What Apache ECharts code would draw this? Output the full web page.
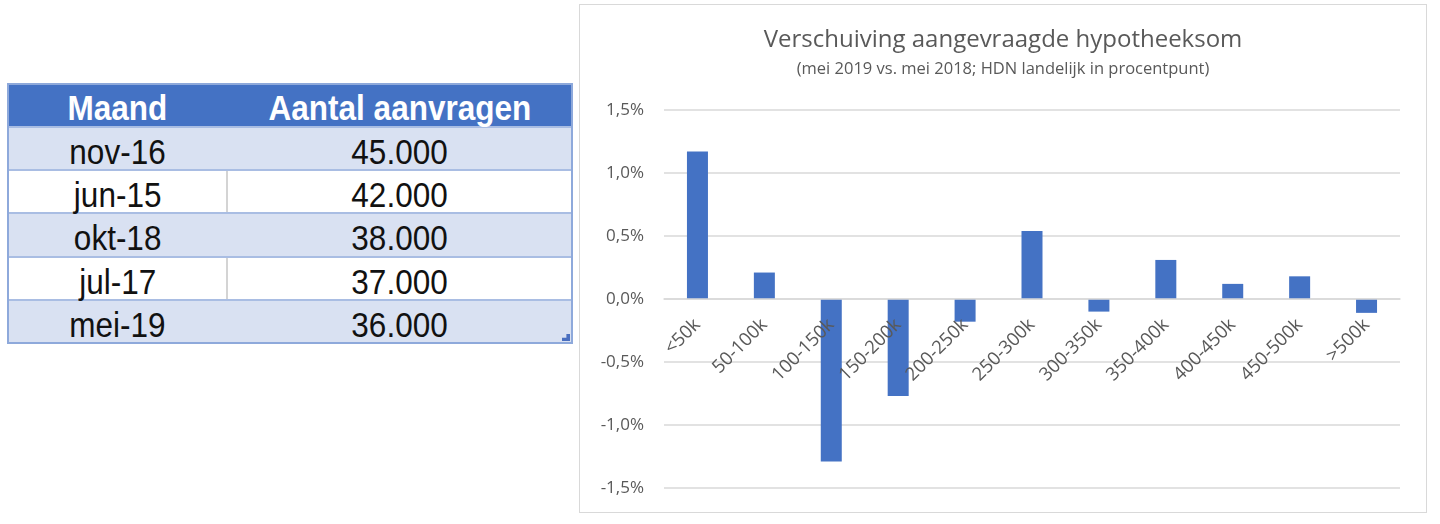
<!DOCTYPE html>
<html>
<head>
<meta charset="utf-8">
<script src="https://cdn.jsdelivr.net/npm/echarts@6/dist/echarts.min.js"></script>
<style>
  html, body { margin: 0; padding: 0; background: #ffffff; width: 1440px; height: 524px; overflow: hidden; }
  .abs { position: absolute; box-sizing: border-box; }
  .cell { position: absolute; text-align: center; font-family: "Liberation Sans", Arial, sans-serif; white-space: nowrap; }
  .cell span { display: inline-block; transform: scaleX(0.9); }
  #chartBox { position: absolute; left: 579px; top: 4px; width: 848px; height: 509px; box-sizing: border-box; border: 1px solid #d9d9d9; }
  #chart { width: 100%; height: 100%; }
</style>
</head>
<body>
<div id="tableLayer"></div>
<div id="chartBox"><div id="chart"></div></div>
<script>
// ---------- table data ----------
const tableHeader = ['Maand', 'Aantal aanvragen'];
const months = ['nov-16', 'jun-15', 'okt-18', 'jul-17', 'mei-19'];
const requestCounts = ['45.000', '42.000', '38.000', '37.000', '36.000'];

// ---------- chart data ----------
const chartTitle = 'Verschuiving aangevraagde hypotheeksom';
const chartSubtitle = '(mei 2019 vs. mei 2018; HDN landelijk in procentpunt)';
const categories = ['<50k', '50-100k', '100-150k', '150-200k', '200-250k', '250-300k', '300-350k', '350-400k', '400-450k', '450-500k', '>500k'];
const shiftValues = [1.17, 0.21, -1.29, -0.77, -0.18, 0.54, -0.10, 0.31, 0.12, 0.18, -0.11];
const yMin = -1.5, yMax = 1.5, yStep = 0.5;

// ---------- build table ----------
(function buildTable() {
  const layer = document.getElementById('tableLayer');
  const L = 8, R = 572, T = 84, headerH = 43, rowH = 43.2, split = 227;
  function add(css, html, cls) {
    const d = document.createElement('div');
    d.className = cls || 'abs';
    Object.assign(d.style, css);
    if (html !== undefined) d.innerHTML = html;
    layer.appendChild(d);
    return d;
  }
  add({ left: L + 'px', top: T + 'px', width: (R - L) + 'px', height: headerH + 'px', background: '#4472C4' });
  const rowsTop = T + headerH;
  months.forEach((m, i) => {
    const y = rowsTop + i * rowH;
    const band = i % 2 === 0;
    add({ left: L + 'px', top: y + 'px', width: (R - L) + 'px', height: rowH + 'px', background: band ? '#D9E1F2' : '#ffffff' });
    if (!band) add({ left: (split - 1) + 'px', top: y + 'px', width: '2px', height: rowH + 'px', background: '#d4d4d4' });
    add({ left: L + 'px', top: (y - 1) + 'px', width: (R - L) + 'px', height: '2px', background: '#A9BDE3' });
  });
  add({ left: (L - 1) + 'px', top: (T - 1) + 'px', width: (R - L + 2) + 'px', height: (headerH + rowH * months.length + 2) + 'px', border: '2px solid #8EA9DB' });
  add({ left: (R - 10) + 'px', top: (rowsTop + rowH * months.length - 9) + 'px', width: '8px', height: '7px', background: '#4A6FC0', clipPath: 'polygon(100% 0,100% 100%,0 100%,0 55%,55% 55%,55% 0)' });
  const fs = 35;
  const cols = [[L, split], [split, R]];
  tableHeader.forEach((h, c) => {
    add({ left: cols[c][0] + 'px', top: (T + 2) + 'px', width: (cols[c][1] - cols[c][0]) + 'px', height: headerH + 'px', lineHeight: headerH + 'px', fontSize: fs + 'px', fontWeight: 'bold', color: '#ffffff' }, '<span>' + h + '</span>', 'cell');
  });
  months.forEach((m, i) => {
    const y = rowsTop + i * rowH + 3;
    [m, requestCounts[i]].forEach((t, c) => {
      add({ left: cols[c][0] + 'px', top: y + 'px', width: (cols[c][1] - cols[c][0]) + 'px', height: rowH + 'px', lineHeight: rowH + 'px', fontSize: fs + 'px', color: '#111111' }, '<span>' + t + '</span>', 'cell');
    });
  });
})();

// ---------- chart ----------
const chart = echarts.init(document.getElementById('chart'), null, { renderer: 'canvas' });
const fontFam = '"Open Sans", "Noto Sans", sans-serif';
chart.setOption({
  animation: false,
  backgroundColor: '#ffffff',
  title: {
    text: chartTitle,
    subtext: chartSubtitle,
    left: 'center',
    top: 18,
    itemGap: 9,
    textStyle: { fontFamily: fontFam, fontSize: 24, fontWeight: 'normal', color: '#595959' },
    subtextStyle: { fontFamily: fontFam, fontSize: 16.5, color: '#595959' }
  },
  grid: { left: 84, right: 26, top: 105, bottom: 24, containLabel: false, outerBoundsMode: 'none' },
  xAxis: {
    type: 'category',
    data: categories,
    z: 10,
    position: 'bottom',
    axisLine: { onZero: true, lineStyle: { color: '#d9d9d9', width: 1.5 } },
    axisTick: { show: false },
    splitLine: { show: false },
    axisLabel: { rotate: 45, margin: 23, interval: 0, fontFamily: fontFam, fontSize: 18.5, color: '#595959' }
  },
  yAxis: {
    type: 'value',
    min: yMin, max: yMax, interval: yStep,
    axisLine: { show: false },
    axisTick: { show: false },
    splitLine: { lineStyle: { color: '#d9d9d9', width: 1.5 } },
    axisLabel: {
      margin: 20,
      fontFamily: fontFam, fontSize: 17, color: '#595959',
      formatter: v => v.toFixed(1).replace('.', ',') + '%'
    }
  },
  series: [{
    type: 'bar',
    data: shiftValues,
    barWidth: 21,
    itemStyle: { color: '#4472C4' }
  }]
});
// Place the category axis (and its labels) on the zero line using the value axis scale.
const yZeroPx = chart.convertToPixel({ yAxisIndex: 0 }, 0);
const yBottomPx = chart.convertToPixel({ yAxisIndex: 0 }, yMin);
chart.setOption({ xAxis: { axisLine: { onZero: false }, offset: -(yBottomPx - yZeroPx) } });
</script>
</body>
</html>
